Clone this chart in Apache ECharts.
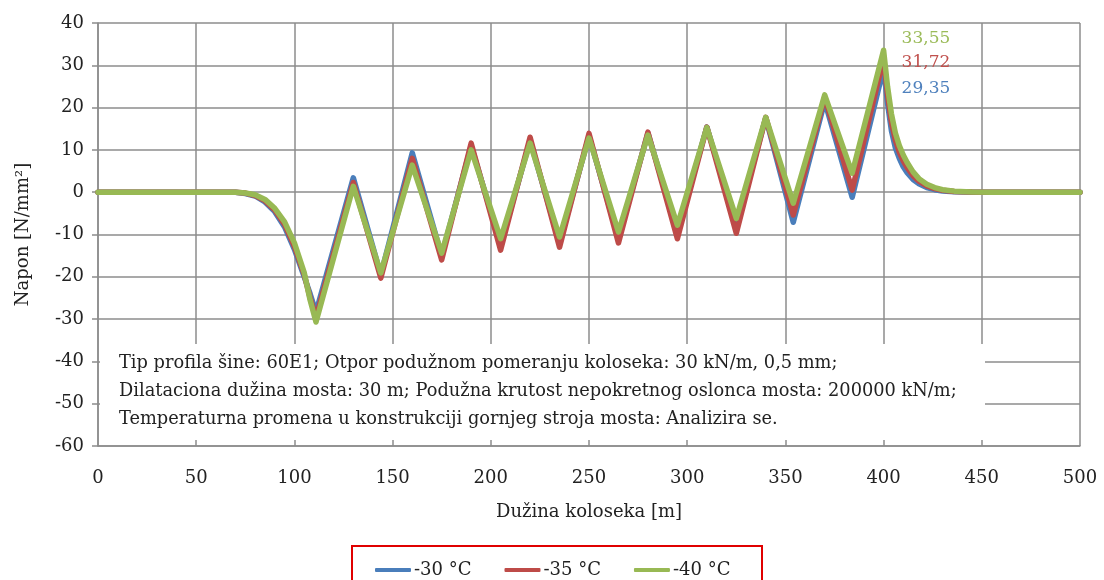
<!DOCTYPE html>
<html>
<head>
<meta charset="utf-8">
<script src="https://cdn.jsdelivr.net/npm/echarts@6/dist/echarts.min.js"></script>
<style>html,body{margin:0;padding:0;background:#fff;}#c{width:1104px;height:580px;}</style>
</head>
<body>
<div id="c"></div>
<script>
// Track length positions [m]
const positions = [0, 50, 70, 75, 80, 85, 90, 95, 100, 105, 108, 111, 130, 144, 160, 175, 190, 205, 220, 235, 250, 265, 280, 295, 310, 325, 340, 354, 370, 384, 400, 402, 404, 406, 408, 410, 412, 415, 418, 422, 426, 430, 436, 445, 455, 500];
// Stress [N/mm2]
const stressMinus30 = [0, 0, 0, -0.3, -0.9, -2.3, -4.6, -8.2, -13.5, -20, -24, -28.4, 3.4, -19.5, 9.3, -15, 11, -12.5, 12.2, -12, 13.3, -11, 14, -9.5, 15.4, -8, 17.6, -7.1, 21.5, -1.2, 29.35, 21, 14.5, 10.5, 8, 6, 4.6, 3, 2, 1.1, 0.6, 0.3, 0.1, 0, 0, 0];
const stressMinus35 = [0, 0, 0, -0.2, -0.8, -2, -4.2, -7.6, -12.8, -19.5, -25, -29.6, 2.3, -20.3, 8, -16, 11.6, -13.7, 13, -13, 13.9, -12, 14.2, -11, 15.4, -9.7, 17.7, -5.4, 22.5, 0.5, 31.72, 23, 16.5, 12.3, 9.5, 7.4, 5.8, 3.9, 2.6, 1.5, 0.85, 0.45, 0.18, 0.03, 0, 0];
const stressMinus40 = [0, 0, 0, -0.2, -0.6, -1.7, -3.8, -7, -12, -19, -25.5, -30.7, 1.4, -19.1, 6.4, -14.4, 10, -11, 11.6, -10.6, 12.8, -9.4, 13.5, -7.8, 15.3, -6.2, 17.7, -2.6, 23, 4.5, 33.55, 25, 18.5, 14, 11, 8.8, 7, 4.8, 3.2, 1.9, 1.1, 0.6, 0.25, 0.05, 0, 0];
const seriesNames = ['-30 °C', '-35 °C', '-40 °C'];
const peakLabels = ['29,35', '31,72', '33,55'];
const noteLines = [
  'Tip profila šine: 60E1; Otpor podužnom pomeranju koloseka: 30 kN/m, 0,5 mm;',
  'Dilataciona dužina mosta: 30 m; Podužna krutost nepokretnog oslonca mosta: 200000 kN/m;',
  'Temperaturna promena u konstrukciji gornjeg stroja mosta: Analizira se.'
];
const xAxisTitle = 'Dužina koloseka [m]';
const yAxisTitle = 'Napon [N/mm²]';

const colors = ['#4a7ebb', '#be4b48', '#98b954'];
const labelColors = ['#4f81bd', '#c0504d', '#9bbb59'];
const allValues = [stressMinus30, stressMinus35, stressMinus40];
const labelOffsets = [[13, 21], [13, 5], [13, -12]];
const FONT = 'DejaVu Serif';

const chart = echarts.init(document.getElementById('c'));
const series = allValues.map((vals, i) => {
  const data = positions.map((x, k) => [x, vals[k]]);
  const peakIdx = vals.indexOf(Math.max(...vals));
  return {
    name: seriesNames[i],
    type: 'line',
    data: data,
    showSymbol: false,
    smooth: false,
    lineStyle: { color: colors[i], width: 5.5, cap: 'round', join: 'round' },
    itemStyle: { color: colors[i] },
    z: 3 + i,
    markPoint: {
      symbol: 'circle', symbolSize: 0,
      label: {
        show: true, position: 'right', offset: labelOffsets[i],
        formatter: peakLabels[i], color: labelColors[i], fontFamily: FONT, fontSize: 17
      },
      data: [{ coord: data[peakIdx] }]
    }
  };
});

const axisLabelStyle = { color: '#222', fontFamily: FONT, fontSize: 18 };
chart.setOption({
  animation: false,
  backgroundColor: '#fff',
  grid: { left: 98, right: 24, top: 23, bottom: 134 },
  xAxis: {
    type: 'value', min: 0, max: 500, interval: 50,
    name: xAxisTitle, nameLocation: 'middle', nameGap: 57,
    nameTextStyle: { color: '#222', fontFamily: FONT, fontSize: 18 },
    axisLine: { show: true, onZero: false, lineStyle: { color: '#8c8c8c', width: 1.5 } },
    axisTick: { show: false },
    axisLabel: Object.assign({ margin: 23 }, axisLabelStyle),
    splitLine: { show: true, lineStyle: { color: '#8c8c8c', width: 1.5 } }
  },
  yAxis: {
    type: 'value', min: -60, max: 40, interval: 10,
    name: yAxisTitle, nameLocation: 'middle', nameGap: 66,
    nameTextStyle: { color: '#222', fontFamily: FONT, fontSize: 18 },
    axisLine: { show: true, lineStyle: { color: '#8c8c8c', width: 1.5 } },
    axisTick: { show: true, length: 6, inside: false, lineStyle: { color: '#8c8c8c', width: 1.5 } },
    axisLabel: Object.assign({ margin: 14 }, axisLabelStyle),
    splitLine: { show: true, lineStyle: { color: '#8c8c8c', width: 1.5 } }
  },
  legend: {
    left: 370, top: 556,
    data: seriesNames,
    itemWidth: 36, itemHeight: 4, itemGap: 33,
    icon: 'roundRect',
    textStyle: { color: '#222', fontFamily: FONT, fontSize: 18, padding: [0, 0, 0, -2] }
  },
  graphic: [
    { type: 'rect', z: 50, shape: { x: 100, y: 344, width: 885, height: 96 }, style: { fill: '#fff' } },
    { type: 'text', z: 51, left: 119, top: 354, style: { text: noteLines[0], fill: '#222', font: '17.8px "' + FONT + '"' } },
    { type: 'text', z: 51, left: 119, top: 382, style: { text: noteLines[1], fill: '#222', font: '17.8px "' + FONT + '"' } },
    { type: 'text', z: 51, left: 119, top: 410, style: { text: noteLines[2], fill: '#222', font: '17.8px "' + FONT + '"' } },
    { type: 'rect', z: 50, shape: { x: 352, y: 546, width: 410, height: 60 }, style: { fill: 'none', stroke: '#e00000', lineWidth: 2 } }
  ],
  series: series
});
</script>
</body>
</html>
